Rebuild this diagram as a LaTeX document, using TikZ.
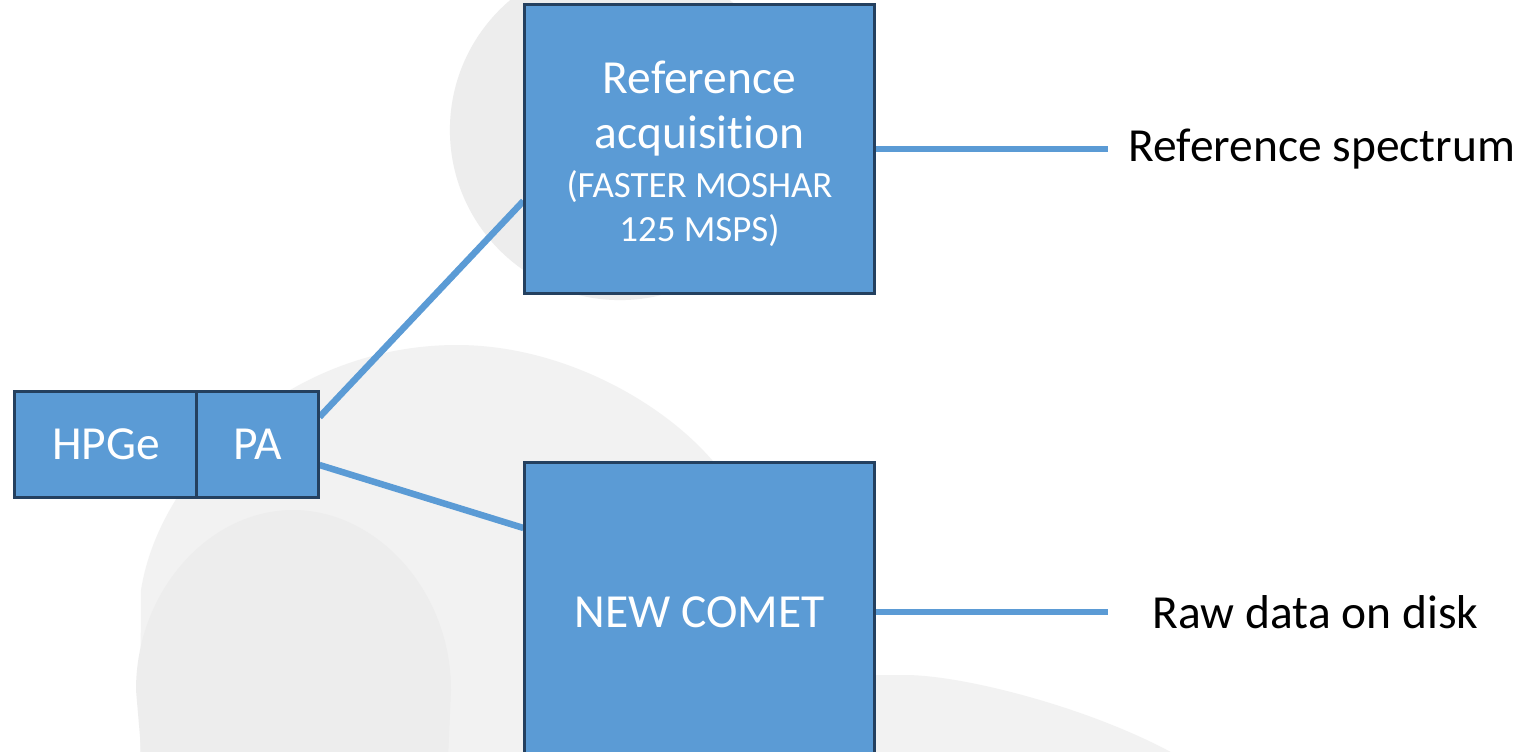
\documentclass[tikz,border=0pt]{standalone}
\usepackage{fontspec}
\setmainfont{Carlito}[Ligatures={NoCommon,NoContextual}]
\definecolor{boxfill}{HTML}{5B9BD5}
\definecolor{boxline}{HTML}{24405F}
\definecolor{wire}{HTML}{5B9BD5}
\definecolor{shadeA}{HTML}{F2F2F2}
\definecolor{shadeB}{HTML}{EDEDED}
\newcommand\mainfnt{\fontsize{13.5}{16}\selectfont}
\newcommand\smallfnt{\fontsize{10.5}{12.6}\selectfont}
\pgfdeclarelayer{blobs}
\pgfdeclarelayer{wires}
\pgfsetlayers{blobs,wires,main}
\tikzset{
  blockbox/.style={draw=boxline, line width=0.03cm, fill=boxfill, text=white,
    inner sep=0pt, align=center, font=\mainfnt},
  wireline/.style={draw=wire, line width=0.065cm},
  outlabel/.style={anchor=west, inner sep=0pt, text=black, font=\mainfnt},
}
\begin{document}
\begin{tikzpicture}[x=0.01cm,y=-0.01cm]
\useasboundingbox (0,0) rectangle (1524,751);

% soft grey silhouettes in the background
\begin{pgfonlayer}{blobs}
  \fill[white] (0,0) rectangle (1524,751);
  \fill[shadeB] (620,130) circle [radius=1.7cm];
  \fill[shadeA] (140,760) -- (141,590)
    .. controls (160,470) and (290,345) .. (457,345)
    .. controls (560,345) and (660,400) .. (712,460)
    .. controls (760,520) and (800,600) .. (820,760) -- cycle;
  \fill[shadeB] (142,760) -- (136,690)
    .. controls (136,590) and (210,510) .. (293,510)
    .. controls (376,510) and (451,590) .. (451,690)
    -- (448,760) -- cycle;
  \fill[shadeA] (860,760) -- (860,675) -- (905,675)
    .. controls (965,675) and (1100,710) .. (1185,760) -- cycle;
\end{pgfonlayer}

% detector and preamplifier
\node[blockbox, minimum width=1.82cm, minimum height=1.05cm] (hpge) at (106,444.5) {HPGe};
\node[blockbox, minimum width=1.21cm, minimum height=1.05cm] (pa) at (257.5,444.5) {PA};

% acquisition chains
\node[blockbox, minimum width=3.49cm, minimum height=2.88cm] (ref) at (699.5,149)
  {\rule{0pt}{12pt}Reference\\[-0.2pt]acquisition\\[-2.2pt]\smallfnt (FASTER MOSHAR\\[-3.4pt]\smallfnt 125 MSPS)};
\node[blockbox, minimum width=3.49cm, minimum height=2.98cm] (comet) at (699.5,612) {NEW COMET};

% outputs
\coordinate (refout) at (1108,149);
\coordinate (cometout) at (1108,612);
\node[outlabel] (spec) at (1128,149) {Reference spectrum};
\node[outlabel] (disk) at (1152,612) {Raw data on disk};

\begin{pgfonlayer}{wires}
  \draw[wireline] ([yshift=0.275cm]pa.east) -- ([yshift=-0.52cm]ref.west);
  \draw[wireline] ([yshift=-0.205cm]pa.east) -- ([yshift=0.84cm]comet.west);
  \draw[wireline] (ref.east) -- (refout);
  \draw[wireline] (comet.east) -- (cometout);
\end{pgfonlayer}
\end{tikzpicture}
\end{document}
